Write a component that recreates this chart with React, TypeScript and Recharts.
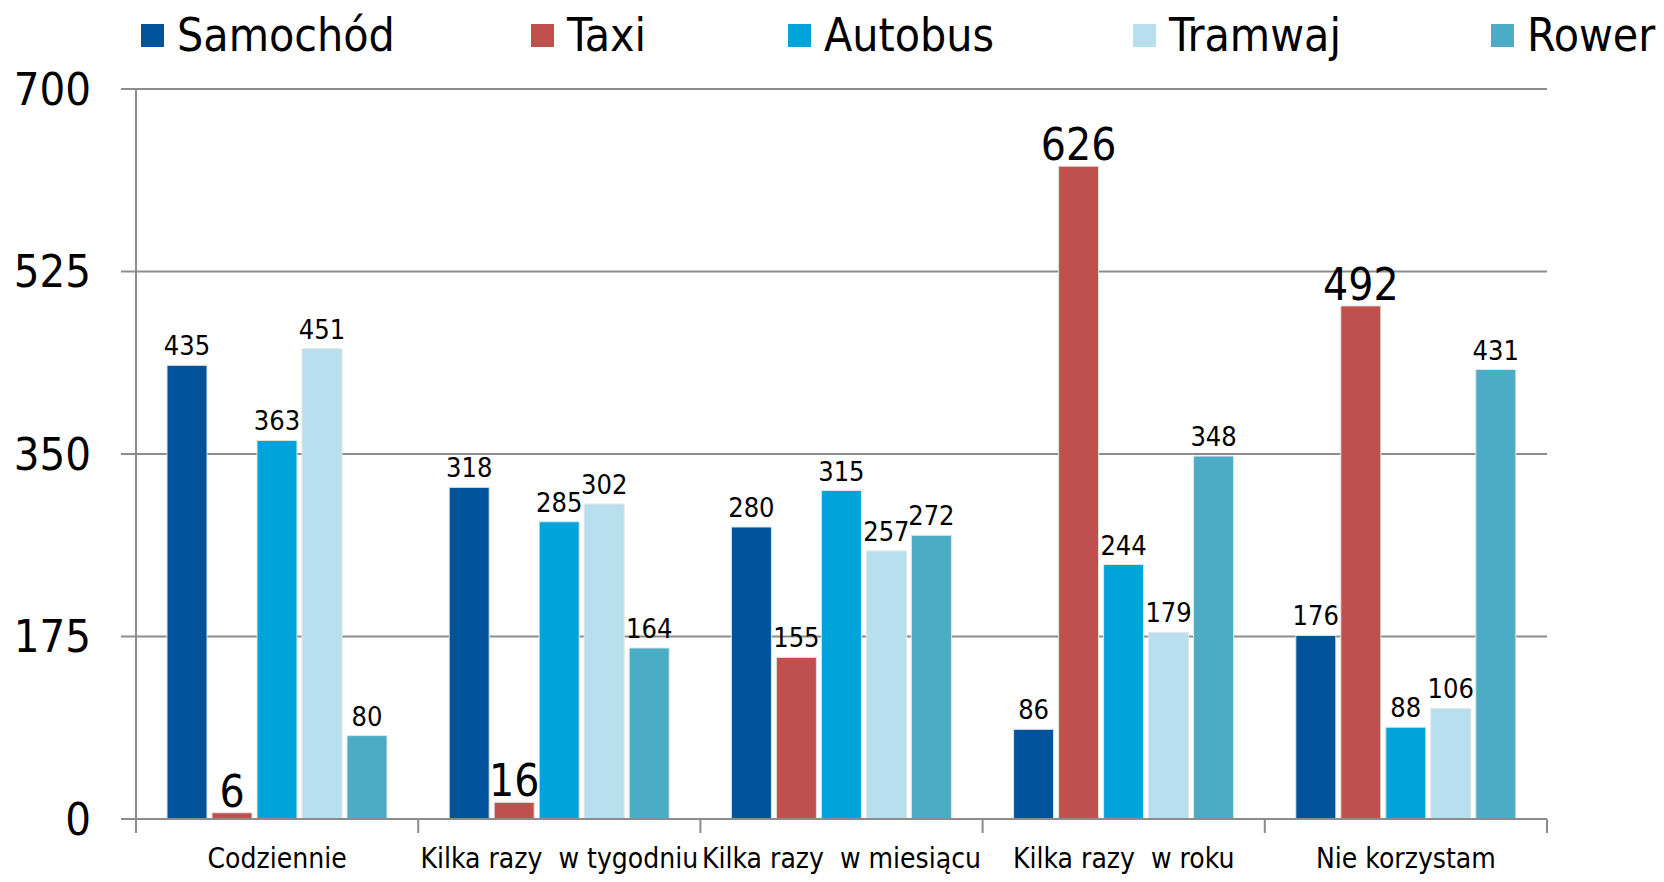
import React from "react";
import { BarChart, Bar, XAxis, YAxis, CartesianGrid, LabelList } from "recharts";

const categories = [
  "Codziennie",
  "Kilka razy \u2028w tygodniu",
  "Kilka razy \u2028w miesiącu",
  "Kilka razy \u2028w roku",
  "Nie korzystam",
];
const samochod = [435, 318, 280, 86, 176];
const taxi = [6, 16, 155, 626, 492];
const autobus = [363, 285, 315, 244, 88];
const tramwaj = [451, 302, 257, 179, 106];
const rower = [80, 164, 272, 348, 431];
const yTicks = [0, 175, 350, 525, 700];

const FONT = "'DejaVu Sans Condensed', 'Liberation Sans', sans-serif";
const GRID = "#8c8c8c";

const series = [
  { key: "samochod", name: "Samochód", color: "#00529b", big: [] as number[] },
  { key: "taxi", name: "Taxi", color: "#c0504d", big: [0, 1, 3, 4] },
  { key: "autobus", name: "Autobus", color: "#00a3da", big: [] as number[] },
  { key: "tramwaj", name: "Tramwaj", color: "#b7dfee", big: [] as number[] },
  { key: "rower", name: "Rower", color: "#4bacc6", big: [] as number[] },
];

// where each legend entry starts (Excel spaced them unevenly)
const legendLeft = [141, 531, 788, 1133, 1491];

const data = categories.map((category, i) => ({
  category,
  samochod: samochod[i],
  taxi: taxi[i],
  autobus: autobus[i],
  tramwaj: tramwaj[i],
  rower: rower[i],
}));

function valueLabel(big: number[]) {
  return (props: any) => {
    const { x, y, width, value, index } = props;
    const isBig = big.includes(index);
    return (
      <text
        x={Number(x) + Number(width) / 2}
        y={Number(y) - (isBig ? 6 : 10)}
        textAnchor="middle"
        fontFamily={FONT}
        fontSize={isBig ? 44 : 27}
        fill="#000"
      >
        {value}
      </text>
    );
  };
}

// label plus the Excel-style tick marks on the category boundaries
function CategoryTick(props: any) {
  const { x, y, payload, index, visibleTicksCount } = props;
  const half = payload.offset ?? 0;
  const last = index === visibleTicksCount - 1;
  return (
    <g>
      <line x1={x - half} x2={x - half} y1={y} y2={y + 14} stroke={GRID} strokeWidth={2} />
      {last && <line x1={x + half} x2={x + half} y1={y} y2={y + 14} stroke={GRID} strokeWidth={2} />}
      <text x={x} y={y + 49} textAnchor="middle" fontFamily={FONT} fontSize={28} fill="#000">
        {payload.value}
      </text>
    </g>
  );
}

function Legend() {
  return (
    <>
      {series.map((s, i) => (
        <div
          key={s.key}
          style={{
            position: "absolute",
            left: legendLeft[i],
            top: 8,
            height: 54,
            display: "flex",
            alignItems: "center",
            fontFamily: FONT,
            fontSize: 46,
            color: "#000",
            whiteSpace: "nowrap",
          }}
        >
          <span style={{ width: 23, height: 23, background: s.color, marginRight: 13, display: "inline-block" }} />
          {s.name}
        </div>
      ))}
    </>
  );
}

export default function App() {
  return (
    <div style={{ position: "fixed", left: 0, top: 0, width: 1664, height: 882, background: "#fff" }}>
      <BarChart
        width={1664}
        height={882}
        data={data}
        margin={{ top: 89, right: 117, bottom: 62, left: 0 }}
        barCategoryGap={31}
        barGap={5}
      >
        <CartesianGrid vertical={false} stroke={GRID} strokeWidth={2} />
        <XAxis
          dataKey="category"
          height={1}
          axisLine={{ stroke: GRID, strokeWidth: 2 }}
          tickLine={false}
          tickSize={0}
          tickMargin={0}
          interval={0}
          tick={<CategoryTick />}
        />
        <YAxis
          width={136}
          domain={[0, 700]}
          ticks={yTicks}
          tickSize={15}
          tickMargin={30}
          axisLine={{ stroke: GRID, strokeWidth: 2 }}
          tickLine={{ stroke: GRID, strokeWidth: 2 }}
          tick={{ fill: "#000", fontSize: 45, fontFamily: FONT }}
        />
        {series.map((s) => (
          <Bar
            key={s.key}
            dataKey={s.key}
            name={s.name}
            fill={s.color}
            stroke="#e4e4e4"
            strokeWidth={1}
            isAnimationActive={false}
          >
            <LabelList dataKey={s.key} content={valueLabel(s.big)} />
          </Bar>
        ))}
      </BarChart>
      <Legend />
    </div>
  );
}
